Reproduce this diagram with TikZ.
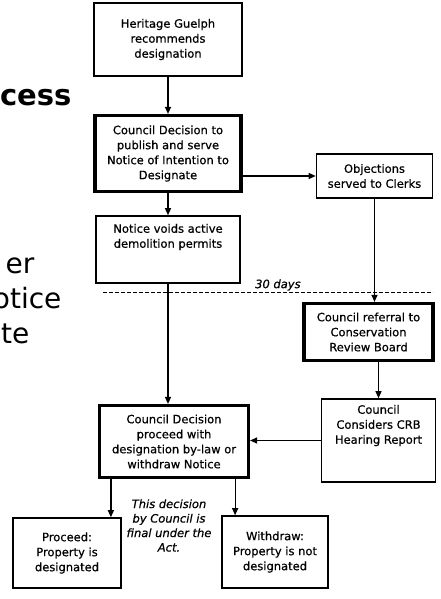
\documentclass[tikz,border=0pt]{standalone}
\usepackage{fontspec}
\usetikzlibrary{positioning,arrows.meta}
\newfontfamily\dejavu{DejaVu Sans}
\newfontfamily\flowfont[FakeBold=0.6]{DejaVu Sans}
\tikzset{
  stage/.style={draw, line width=1.6pt, align=center, inner sep=0pt,
    font=\flowfont\fontsize{11.5pt}{15pt}\selectfont},
  keystage/.style={stage, line width=3.2pt},
  slide/.style={inner sep=0pt, anchor=base east,
    font=\dejavu\fontsize{28pt}{34pt}\selectfont},
}
\begin{document}
\begin{tikzpicture}[x=1pt, y=1pt, line width=1.2pt, >={Triangle[length=7pt,width=6pt]}]
   \useasboundingbox (0,0) rectangle (440,-599);
   \clip (0,0) rectangle (440,-599);
   \node (cess) [slide, font=\dejavu\bfseries\fontsize{29pt}{34pt}\selectfont] at (72,-106) {cess};
   \node (er) [slide] at (35,-273) {er};
   \node (otice) [slide] at (62,-308) {otice};
   \node (te) [slide] at (30,-343) {te};
   \node (H) [stage, minimum width=148pt, minimum height=73pt] at (168,-39.5) {Heritage Guelph\\recommends\\designation};
   \node (D) [keystage, node distance=114pt, below of=H, minimum width=146pt, minimum height=76pt] {Council Decision to\\publish and serve\\Notice of Intention to\\Designate};
   \node (V) [stage, node distance=96pt, below of=D, minimum width=144pt, minimum height=67pt] {\parbox[c][51pt][t]{140pt}{\centering Notice voids active\\demolition permits}};
   \node (O) [stage, node distance=206.5pt, right of=D, yshift=-22.5pt, minimum width=116pt, minimum height=44pt] {Objections\\served to Clerks};
   \node (R) [keystage, node distance=156pt, below of=O, xshift=-6pt, minimum width=129pt, minimum height=57pt] {Council referral to\\Conservation\\Review Board};
   \node (C) [stage, node distance=108.5pt, below of=R, xshift=10pt, minimum width=114pt, minimum height=83pt] {\parbox[c][71pt][t]{110pt}{\centering Council\\Considers CRB\\Hearing Report}};
   \node (F) [keystage, node distance=192pt, below of=V, xshift=6pt, minimum width=149pt, minimum height=72pt] {Council Decision\\proceed with\\designation by-law or\\withdraw Notice};
   \node (P) [stage, node distance=111.5pt, below of=F, xshift=-107pt, minimum width=108pt, minimum height=70pt] {Proceed:\\Property is\\designated};
   \node (W) [stage, node distance=110.5pt, below of=F, xshift=101pt, minimum width=106pt, minimum height=72pt] {Withdraw:\\Property is not\\designated};
   \node (N) [node distance=84pt, below of=F, xshift=-5pt, align=center, font=\flowfont\itshape\fontsize{11.5pt}{14.5pt}\selectfont] {This decision\\by Council is\\final under the\\Act.};
   \coordinate (dl) at (103,-292);
   \coordinate (dr) at (433,-292);
   \draw[dash pattern=on 4pt off 2pt, line width=1pt] (dl) -- node (days) [above, pos=0.53, inner sep=1pt, font=\flowfont\itshape\fontsize{11.5pt}{14pt}\selectfont] {30 days} (dr);
   \coordinate (Fl) at ([xshift=13pt]F.south west);
   \coordinate (Fr) at ([xshift=-15pt]F.south east);
   \path[->]
     (H) edge (D)
     (D) edge (V)
     (D.east |- O.west) edge (O.west)
     (O.south) edge (O.south |- R.north)
     (R.south -| C.north) edge (C.north)
     (C.west) edge (C.west -| F.east)
     (V.south) edge (V.south |- F.north)
     (Fl) edge (Fl |- P.north)
     (Fr) edge (Fr |- W.north);
\end{tikzpicture}
\end{document}
